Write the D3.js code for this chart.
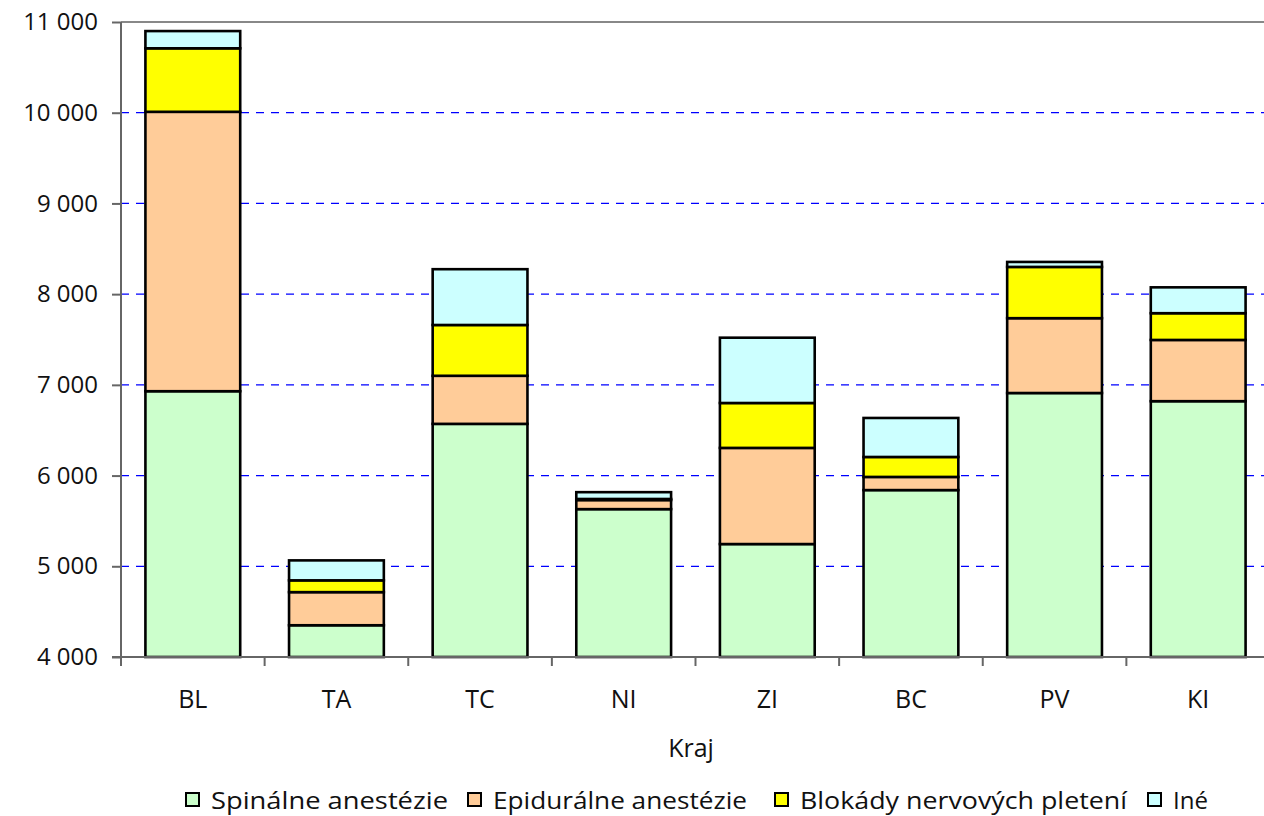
<!DOCTYPE html>
<html>
<head>
<meta charset="utf-8">
<script src="https://cdn.jsdelivr.net/npm/d3@7"></script>
<style>
  body { margin: 0; background: #fff; }
  text { font-family: "Open Sans", sans-serif; fill: #111; }
</style>
</head>
<body>
<script>
// data
var categories = ["BL", "TA", "TC", "NI", "ZI", "BC", "PV", "KI"];
var spinalne   = [6930, 4350, 6570, 5630, 5245, 5840, 6910, 6820];
var epiduralne = [3080, 365, 530, 100, 1060, 145, 825, 675];
var blokady    = [700, 130, 560, 12, 495, 220, 565, 295];
var ine        = [190, 220, 615, 75, 720, 430, 55, 285];
var seriesNames = ["Spinálne anestézie", "Epidurálne anestézie", "Blokády nervových pletení", "Iné"];
var yTicks = [4000, 5000, 6000, 7000, 8000, 9000, 10000, 11000];

var colors = ["#ccffcc", "#ffcc99", "#ffff00", "#ccffff"];

var width = 1264, height = 816;
var plotLeft = 121, plotRight = 1270, plotTop = 22, plotBottom = 657;

var svg = d3.select("body").append("svg")
    .attr("width", width)
    .attr("height", height);

var x = d3.scaleBand()
    .domain(categories)
    .range([plotLeft, plotRight])
    .paddingInner(0.34)
    .paddingOuter(0.17);

var y = d3.scaleLinear()
    .domain([4000, 11000])
    .range([plotBottom, plotTop])
    .clamp(true);

var fmt = function (d) { return d3.format(",")(d).replace(/,/g, " "); };

// gridlines
svg.append("g")
    .selectAll("line")
    .data(yTicks.filter(function (d) { return d > 4000 && d < 11000; }))
    .enter().append("line")
    .attr("x1", plotLeft).attr("x2", width)
    .attr("y1", function (d) { return y(d); })
    .attr("y2", function (d) { return y(d); })
    .style("stroke", "#0000ff")
    .style("stroke-width", 1.2)
    .style("stroke-dasharray", "8,7");

// top border of plot area
svg.append("line")
    .attr("x1", plotLeft).attr("x2", width)
    .attr("y1", y(11000)).attr("y2", y(11000))
    .style("stroke", "#888")
    .style("stroke-width", 2);

// stacked bars
var table = categories.map(function (c, i) {
    return { kraj: c, s0: spinalne[i], s1: epiduralne[i], s2: blokady[i], s3: ine[i] };
});
var stack = d3.stack().keys(["s0", "s1", "s2", "s3"]);
var layers = stack(table);

svg.append("g")
    .selectAll("g")
    .data(layers)
    .enter().append("g")
    .style("fill", function (d, i) { return colors[i]; })
    .selectAll("rect")
    .data(function (d) { return d; })
    .enter().append("rect")
    .attr("x", function (d) { return x(d.data.kraj); })
    .attr("width", x.bandwidth())
    .attr("y", function (d) { return y(d[1]); })
    .attr("height", function (d) { return y(d[0]) - y(d[1]); })
    .style("stroke", "#000")
    .style("stroke-width", 2.6);

// y axis
var yAxis = d3.axisLeft(y)
    .tickValues(yTicks)
    .tickFormat(fmt)
    .tickSize(9)
    .tickPadding(14);

var gy = svg.append("g")
    .attr("transform", "translate(" + plotLeft + ",0)")
    .call(yAxis);
gy.select(".domain").remove();
gy.selectAll(".tick line").style("stroke", "#666").style("stroke-width", 2);
gy.selectAll("text")
    .style("font-size", "24px")
    .style("font-family", "'Open Sans', sans-serif")
    .style("fill", "#111");

svg.append("line")
    .attr("x1", plotLeft).attr("x2", plotLeft)
    .attr("y1", plotTop).attr("y2", plotBottom + 9)
    .style("stroke", "#666").style("stroke-width", 2);

// x axis
svg.append("line")
    .attr("x1", plotLeft - 9).attr("x2", width)
    .attr("y1", plotBottom).attr("y2", plotBottom)
    .style("stroke", "#666").style("stroke-width", 2);

svg.append("g")
    .selectAll("line")
    .data(d3.range(1, categories.length))
    .enter().append("line")
    .attr("x1", function (i) { return plotLeft + i * x.step(); })
    .attr("x2", function (i) { return plotLeft + i * x.step(); })
    .attr("y1", plotBottom).attr("y2", plotBottom + 9)
    .style("stroke", "#666").style("stroke-width", 2);

svg.append("g")
    .selectAll("text")
    .data(categories)
    .enter().append("text")
    .attr("x", function (d) { return x(d) + x.bandwidth() / 2; })
    .attr("y", 708)
    .attr("text-anchor", "middle")
    .style("font-size", "25px")
    .text(function (d) { return d; });

svg.append("text")
    .attr("x", 691)
    .attr("y", 757)
    .attr("text-anchor", "middle")
    .style("font-size", "25px")
    .text("Kraj");

// legend
var legendX = [185, 467, 774, 1147];
var legendW = [237, 254, 327, 35];
var legend = svg.append("g")
    .selectAll("g")
    .data(seriesNames)
    .enter().append("g")
    .attr("transform", function (d, i) { return "translate(" + legendX[i] + ",792)"; });

legend.append("rect")
    .attr("x", 1).attr("y", 1)
    .attr("width", 13).attr("height", 13)
    .style("fill", function (d, i) { return colors[i]; })
    .style("stroke", "#000")
    .style("stroke-width", 2);

legend.append("text")
    .attr("x", 26)
    .attr("y", 17)
    .attr("textLength", function (d, i) { return legendW[i]; })
    .attr("lengthAdjust", "spacingAndGlyphs")
    .style("font-size", "23px")
    .text(function (d) { return d; });
</script>
</body>
</html>
